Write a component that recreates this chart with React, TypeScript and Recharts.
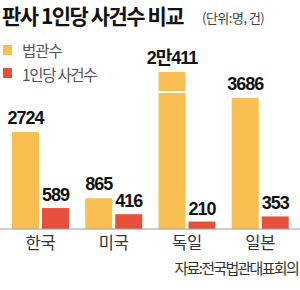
import React from "react";
import { BarChart, Bar, XAxis, YAxis, LabelList } from "recharts";

const countries = ["한국", "미국", "독일", "일본"];
const judges = [2724, 865, 20411, 3686];
const judgeLabels = ["2724", "865", "2만411", "3686"];
const casesPerJudge = [589, 416, 210, 353];
const caseLabels = ["589", "416", "210", "353"];

// visible top of the broken axis (values above are drawn with a break mark)
const AXIS_CAP = 4410;

const ORANGE = "#F9BF53";
const RED = "#E8503B";

const data = countries.map((c, i) => ({
  country: c,
  judges: judges[i],
  judgesShown: Math.min(judges[i], AXIS_CAP),
  judgesLabel: judgeLabels[i],
  cases: casesPerJudge[i],
  casesLabel: caseLabels[i],
}));

const JudgeShape = (props: any) => {
  const { x, y, width, height, fill, payload } = props;
  const broken = payload && payload.judges > AXIS_CAP;
  return (
    <g>
      <rect x={x} y={y} width={width} height={height} fill={fill} />
      {broken && <rect x={x} y={y + 19} width={width} height={2} fill="#ffffff" />}
    </g>
  );
};

const FONT = "'Noto Sans CJK KR', 'Liberation Sans', sans-serif";
const NUM_FONT = "'Liberation Sans', 'Noto Sans CJK KR', sans-serif";

export default function App() {
  return (
    <div
      style={{
        position: "absolute",
        left: 0,
        top: 0,
        width: 300,
        height: 290,
        background: "#fff",
        fontFamily: FONT,
        overflow: "hidden",
      }}
    >
      <div
        style={{
          position: "absolute",
          left: 2,
          top: 0,
          fontSize: 21,
          fontWeight: 700,
          lineHeight: "normal",
          letterSpacing: -1.5,
          color: "#111",
          whiteSpace: "nowrap",
        }}
      >
        판사 1인당 사건수 비교
      </div>
      <div
        style={{
          position: "absolute",
          left: 202,
          top: 9,
          fontSize: 13,
          lineHeight: "18px",
          letterSpacing: -0.5,
          color: "#444",
          whiteSpace: "nowrap",
        }}
      >
        (단위:명, 건)
      </div>
      <div style={{ position: "absolute", left: 3, top: 45, width: 9, height: 10, background: ORANGE }} />
      <div
        style={{
          position: "absolute",
          left: 22,
          top: 40,
          fontSize: 15.5,
          lineHeight: "20px",
          letterSpacing: -1,
          color: "#555",
          whiteSpace: "nowrap",
        }}
      >
        법관수
      </div>
      <div style={{ position: "absolute", left: 3, top: 68, width: 9, height: 10, background: RED }} />
      <div
        style={{
          position: "absolute",
          left: 22,
          top: 64,
          fontSize: 15.5,
          lineHeight: "20px",
          letterSpacing: -1.3,
          color: "#555",
          whiteSpace: "nowrap",
        }}
      >
        1인당 사건수
      </div>

      <div style={{ position: "absolute", left: 0, top: 0 }}>
        <BarChart
          width={300}
          height={290}
          data={data}
          margin={{ top: 72, right: 0, bottom: 31, left: 0 }}
          barSize={27}
          barGap={3}
        >
          <XAxis
            dataKey="country"
            height={30}
            tickLine={false}
            axisLine={{ stroke: "#9a9a9a", strokeWidth: 1 }}
            tick={{ fill: "#333", fontSize: 16.5 }}
            padding={{ left: 4, right: 3 }}
            interval={0}
          />
          <YAxis hide domain={[0, AXIS_CAP]} />
          <Bar dataKey="judgesShown" fill={ORANGE} isAnimationActive={false} shape={JudgeShape}>
            <LabelList
              dataKey="judgesLabel"
              position="top"
              offset={8}
              fill="#111"
              fontSize={18}
              fontWeight="bold"
              style={{ letterSpacing: -1, fontFamily: NUM_FONT }}
            />
          </Bar>
          <Bar dataKey="cases" fill={RED} isAnimationActive={false}>
            <LabelList
              dataKey="casesLabel"
              position="top"
              offset={7}
              fill="#111"
              fontSize={18}
              fontWeight="bold"
              style={{ letterSpacing: -1, fontFamily: NUM_FONT }}
            />
          </Bar>
        </BarChart>
      </div>

      <div
        style={{
          position: "absolute",
          right: 2,
          top: 258,
          fontSize: 15,
          lineHeight: "20px",
          letterSpacing: -1.7,
          color: "#333",
          whiteSpace: "nowrap",
        }}
      >
        자료:전국법관대표회의
      </div>
    </div>
  );
}
